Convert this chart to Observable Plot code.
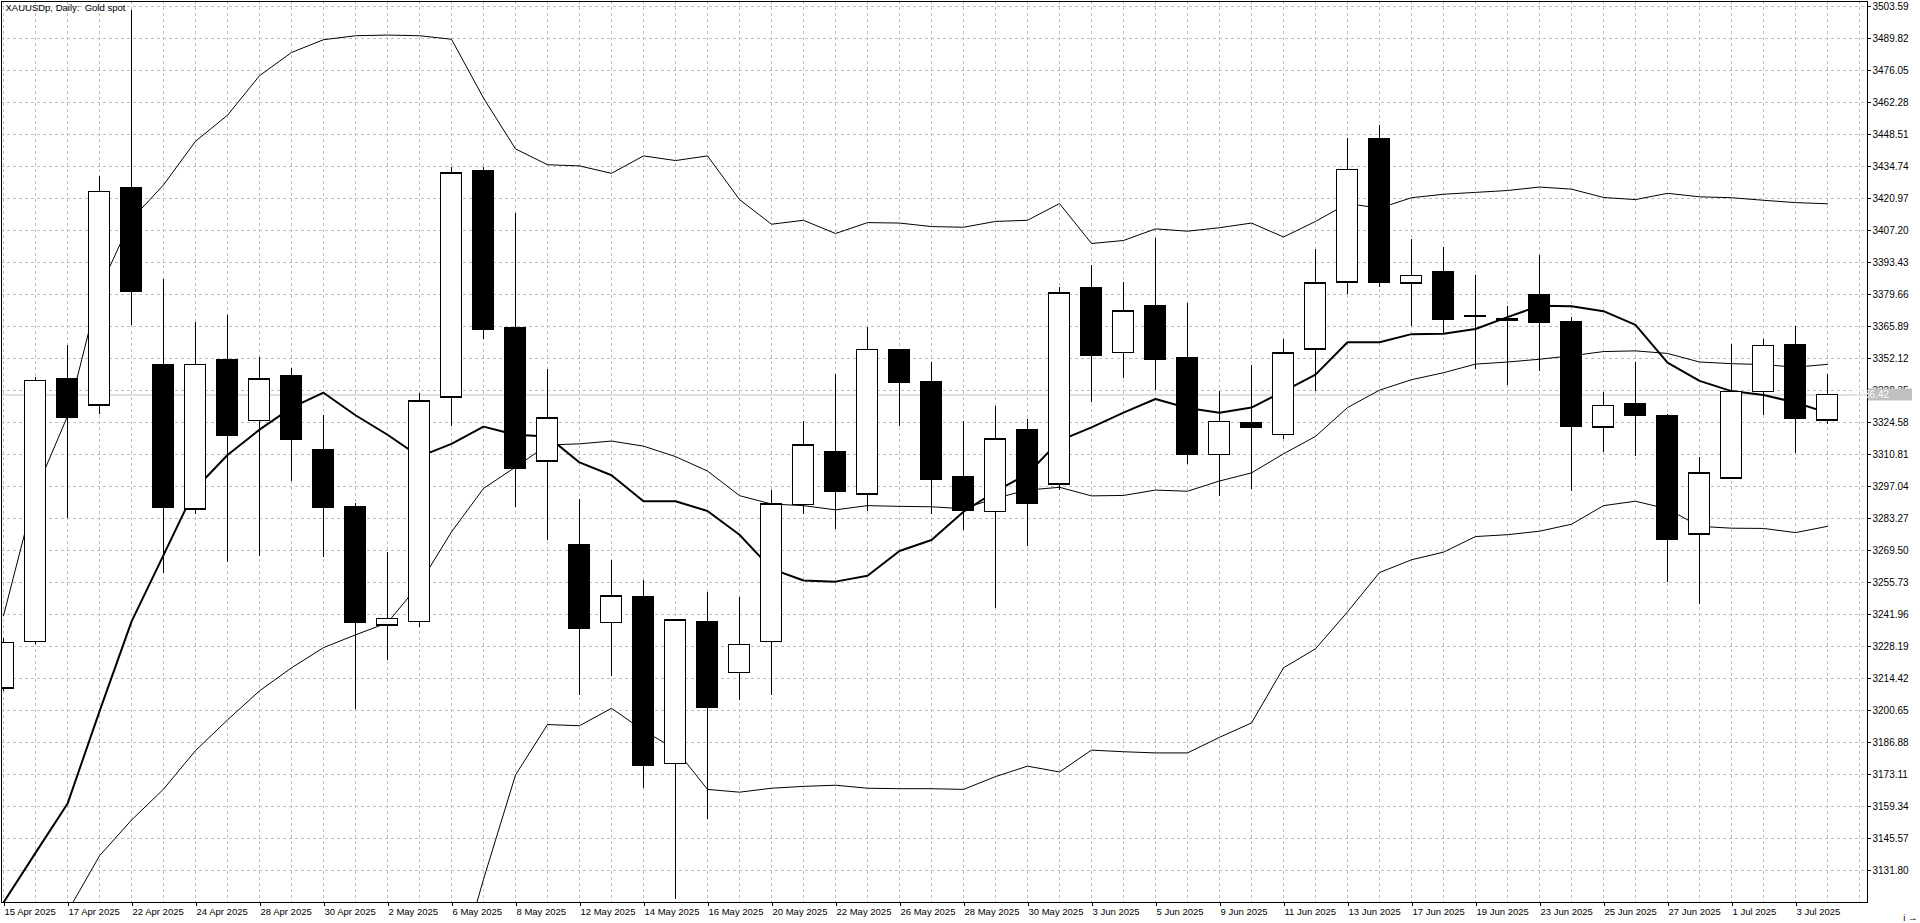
<!DOCTYPE html>
<html>
<head>
<meta charset="utf-8">
<script src="https://cdn.jsdelivr.net/npm/d3@7"></script>
<script src="https://cdn.jsdelivr.net/npm/@observablehq/plot@0.6"></script>
<style>
html, body { margin: 0; padding: 0; background: #fff; overflow: hidden; }
#chart svg { display: block; }
</style>
</head>
<body>
<div id="chart"></div>
<script>
const title = "XAUUSDp, Daily:\u00a0 Gold spot";

const dates = [
  "15 Apr 2025","16 Apr 2025","17 Apr 2025","21 Apr 2025","22 Apr 2025","23 Apr 2025","24 Apr 2025","25 Apr 2025","28 Apr 2025","29 Apr 2025",
  "30 Apr 2025","1 May 2025","2 May 2025","5 May 2025","6 May 2025","7 May 2025","8 May 2025","9 May 2025","12 May 2025","13 May 2025",
  "14 May 2025","15 May 2025","16 May 2025","19 May 2025","20 May 2025","21 May 2025","22 May 2025","23 May 2025","26 May 2025","27 May 2025",
  "28 May 2025","29 May 2025","30 May 2025","2 Jun 2025","3 Jun 2025","4 Jun 2025","5 Jun 2025","6 Jun 2025","9 Jun 2025","10 Jun 2025",
  "11 Jun 2025","12 Jun 2025","13 Jun 2025","16 Jun 2025","17 Jun 2025","18 Jun 2025","19 Jun 2025","20 Jun 2025","23 Jun 2025","24 Jun 2025",
  "25 Jun 2025","26 Jun 2025","27 Jun 2025","30 Jun 2025","1 Jul 2025","2 Jul 2025","3 Jul 2025","4 Jul 2025"
];

const open = [
  3210.3, 3230.2, 3343.4, 3332.0, 3425.3, 3349.2, 3287.2, 3351.6, 3325.3, 3344.7,
  3312.8, 3288.2, 3237.4, 3238.9, 3335.5, 3433.0, 3365.1, 3307.9, 3272.0, 3238.4,
  3249.4, 3177.7, 3238.9, 3217.0, 3230.2, 3289.2, 3312.1, 3293.7, 3355.6, 3342.1,
  3301.1, 3286.1, 3321.4, 3297.9, 3382.3, 3354.6, 3374.8, 3352.2, 3310.6, 3324.5,
  3319.3, 3356.1, 3385.0, 3446.7, 3384.5, 3389.4, 3370.6, 3369.0, 3379.4, 3367.7,
  3322.5, 3332.7, 3327.2, 3276.5, 3300.5, 3337.9, 3357.9, 3325.5
];
const high = [
  3231.5, 3344.0, 3357.6, 3430.5, 3502.0, 3386.2, 3367.6, 3370.8, 3352.7, 3347.9,
  3327.8, 3289.9, 3268.8, 3337.2, 3434.3, 3434.3, 3414.4, 3347.2, 3291.4, 3265.0,
  3256.8, 3239.4, 3251.6, 3249.4, 3295.4, 3324.8, 3345.4, 3365.6, 3355.6, 3350.2,
  3325.0, 3331.5, 3325.8, 3382.8, 3392.2, 3384.7, 3403.9, 3375.8, 3337.8, 3349.2,
  3360.4, 3399.2, 3447.0, 3452.2, 3403.4, 3399.9, 3387.7, 3374.6, 3396.5, 3369.9,
  3337.3, 3350.3, 3328.1, 3309.5, 3358.2, 3360.4, 3366.0, 3345.3
];
const low = [
  3209.0, 3229.0, 3283.2, 3328.2, 3366.3, 3259.6, 3285.0, 3264.5, 3267.0, 3299.4,
  3266.3, 3201.1, 3222.0, 3236.4, 3323.0, 3360.1, 3288.2, 3273.8, 3207.0, 3215.3,
  3167.1, 3119.5, 3153.6, 3205.0, 3206.9, 3285.2, 3278.5, 3286.3, 3323.0, 3285.0,
  3277.9, 3244.6, 3271.1, 3295.4, 3333.0, 3343.6, 3338.2, 3306.5, 3292.8, 3295.7,
  3317.4, 3337.9, 3379.5, 3382.8, 3365.7, 3362.5, 3347.2, 3340.3, 3346.6, 3295.1,
  3311.8, 3309.9, 3255.9, 3246.3, 3300.0, 3327.4, 3311.1, 3323.7
];
const close = [
  3229.7, 3342.5, 3326.8, 3423.8, 3380.8, 3288.2, 3349.4, 3318.8, 3343.2, 3317.1,
  3288.2, 3238.4, 3240.2, 3333.7, 3431.8, 3364.4, 3304.9, 3326.5, 3235.9, 3249.9,
  3176.9, 3239.4, 3201.8, 3228.9, 3289.4, 3314.8, 3294.7, 3355.9, 3341.9, 3300.1,
  3286.5, 3317.3, 3289.8, 3380.3, 3353.2, 3372.5, 3351.6, 3310.8, 3324.8, 3322.5,
  3354.4, 3384.5, 3433.3, 3384.7, 3387.7, 3368.8, 3370.0, 3368.5, 3367.8, 3322.8,
  3331.8, 3327.5, 3274.1, 3302.7, 3337.9, 3357.7, 3326.2, 3336.42
];

const upperBand = [
  3241.4, 3294.9, 3327.3, 3382.0, 3412.0, 3426.8, 3445.6, 3456.8, 3473.8, 3483.8,
  3489.3, 3491.0, 3491.3, 3491.0, 3489.5, 3464.2, 3442.3, 3435.5, 3435.0, 3431.8,
  3439.3, 3437.3, 3439.3, 3420.5, 3409.9, 3411.6, 3405.9, 3410.6, 3410.4, 3408.9,
  3408.6, 3411.1, 3411.6, 3418.8, 3401.6, 3402.9, 3407.9, 3406.9, 3408.4, 3410.4,
  3404.4, 3411.1, 3418.8, 3416.8, 3421.3, 3422.8, 3423.6, 3424.4, 3425.9, 3425.0,
  3421.4, 3420.5, 3423.2, 3421.7, 3421.3, 3420.2, 3419.2, 3418.7
];
const middleBand = [
  null, null, 3114.0, 3138.1, 3153.5, 3166.8, 3183.4, 3196.6, 3209.1, 3219.0,
  3227.7, 3233.2, 3238.4, 3255.1, 3277.5, 3296.2, 3305.4, 3314.9, 3315.4, 3316.6,
  3314.4, 3309.9, 3303.7, 3293.1, 3289.5, 3288.8, 3287.0, 3288.8, 3288.5, 3288.3,
  3287.5, 3292.0, 3295.5, 3296.7, 3293.0, 3293.2, 3295.5, 3295.0, 3299.4, 3302.9,
  3311.1, 3318.6, 3331.0, 3338.5, 3343.0, 3346.0, 3349.7, 3350.6, 3351.8, 3353.3,
  3355.1, 3355.4, 3354.3, 3350.6, 3349.9, 3349.5, 3348.4, 3349.6
];
const lowerBand = [
  null, null, null, null, null, null, null, null, null, null,
  null, null, null, null, 3080.0, 3128.0, 3172.9, 3194.6, 3194.1, 3201.6,
  3192.0, 3184.0, 3166.7, 3165.5, 3167.2, 3168.0, 3168.5, 3167.2, 3167.0, 3167.0,
  3166.7, 3172.2, 3176.7, 3174.2, 3183.6, 3182.9, 3182.4, 3182.4, 3189.1, 3195.3,
  3219.0, 3227.2, 3243.1, 3260.0, 3265.5, 3268.8, 3275.5, 3276.3, 3277.8, 3280.8,
  3288.8, 3290.7, 3287.4, 3279.9, 3279.1, 3279.0, 3277.2, 3279.9
];
const maLine = [
  3118.0, 3139.4, 3160.5, 3200.3, 3238.9, 3267.5, 3296.2, 3310.6, 3321.5, 3331.0,
  3337.4, 3327.7, 3319.3, 3309.9, 3315.4, 3322.8, 3319.3, 3318.6, 3307.4, 3301.9,
  3290.7, 3290.7, 3286.5, 3276.3, 3261.6, 3256.6, 3256.1, 3258.6, 3269.3, 3274.0,
  3286.2, 3294.9, 3302.4, 3316.8, 3322.5, 3328.8, 3334.7, 3330.8, 3328.8, 3331.0,
  3338.0, 3345.2, 3359.1, 3359.1, 3362.6, 3362.8, 3364.8, 3369.9, 3374.8, 3374.6,
  3372.5, 3366.6, 3350.3, 3342.5, 3338.1, 3336.4, 3333.2, 3328.7
];

const yTickLabels = [
  "3503.59","3489.82","3476.05","3462.28","3448.51","3434.74","3420.97","3407.20","3393.43","3379.66",
  "3365.89","3352.12","3338.35","3324.58","3310.81","3297.04","3283.27","3269.50","3255.73","3241.96",
  "3228.19","3214.42","3200.65","3186.88","3173.11","3159.34","3145.57","3131.80"
];
const currentPrice = 3336.42;
const currentPriceLabel = "3336.42";

// ---- build ----
const yTicks = yTickLabels.map(Number);
const n = dates.length;
const candles = dates.map((d, i) => ({i, date: d, o: open[i], h: high[i], l: low[i], c: close[i]}));
const xLabelIdx = d3.range(0, n, 2);
const xGridIdx = d3.range(0, n + 1);
const HW = 0.34; // half body width in bar units
const line = (arr, w) => Plot.line(arr, {x: (d, i) => i, y: d => d, stroke: "black", strokeWidth: w, clip: true});

const plot = Plot.plot({
  width: 1920,
  height: 923,
  marginTop: 1,
  marginBottom: 21,
  marginLeft: 1,
  marginRight: 53,
  style: {fontFamily: "'Liberation Sans', Arial, sans-serif", fontSize: "10px", background: "#fff", color: "#000", overflow: "visible"},
  x: {type: "linear", domain: [-0.0625, 58.25]},
  y: {type: "linear", domain: [3118.03, 3505.74]},
  color: {type: "identity"},
  marks: [
    Plot.gridX(xGridIdx, {stroke: "#c0c0c0", strokeOpacity: 1, strokeDasharray: "3,3"}),
    Plot.gridY(yTicks, {stroke: "#c0c0c0", strokeOpacity: 1, strokeDasharray: "3,3"}),
    Plot.ruleY([currentPrice], {stroke: "#c0c0c0", strokeWidth: 1}),
    line(upperBand, 1),
    line(middleBand, 1),
    line(lowerBand, 1),
    line(maLine, 2),
    Plot.ruleX(candles, {x: "i", y1: "l", y2: "h", stroke: "black", strokeWidth: 1, shapeRendering: "crispEdges", clip: true}),
    Plot.rect(candles, {
      x1: d => d.i - HW, x2: d => d.i + HW,
      y1: d => Math.min(d.o, d.c), y2: d => Math.max(d.o, d.c),
      fill: d => (d.c >= d.o ? "white" : "black"),
      stroke: "black", strokeWidth: 1, shapeRendering: "crispEdges", clip: true
    }),
    Plot.ruleY(candles, {y: "o", x1: d => d.i - HW, x2: d => d.i + HW, stroke: "black", shapeRendering: "crispEdges", clip: true}),
    Plot.ruleY(candles, {y: "c", x1: d => d.i - HW, x2: d => d.i + HW, stroke: "black", shapeRendering: "crispEdges", clip: true}),
    Plot.frame({stroke: "black"}),
    Plot.axisY(yTicks, {anchor: "right", tickSize: 3, tickPadding: 2, tickFormat: (d, i) => yTickLabels[i], fontSize: 10}),
    Plot.axisX(xLabelIdx, {anchor: "bottom", tickSize: 4, tickPadding: 2, tickFormat: i => dates[i], textAnchor: "start", dx: 1, fontSize: 9.5}),
    Plot.text([title], {frameAnchor: "top-left", text: d => d, dx: 4, dy: 3, textAnchor: "start", lineAnchor: "top", fontSize: 9.5, fill: "black"})
  ]
});

// current price marker on the right axis
const py = plot.scale("y").apply(currentPrice);
const g = d3.select(plot).append("g");
g.append("rect").attr("x", 1868).attr("y", py - 6).attr("width", 44).attr("height", 12).attr("fill", "#c0c0c0");
g.append("text").attr("x", 1871).attr("y", py + 3.5).attr("fill", "white")
  .attr("font-family", "'Liberation Sans', Arial, sans-serif").attr("font-size", 10).text(currentPriceLabel);

document.getElementById("chart").appendChild(plot);
</script>
</body>
</html>
